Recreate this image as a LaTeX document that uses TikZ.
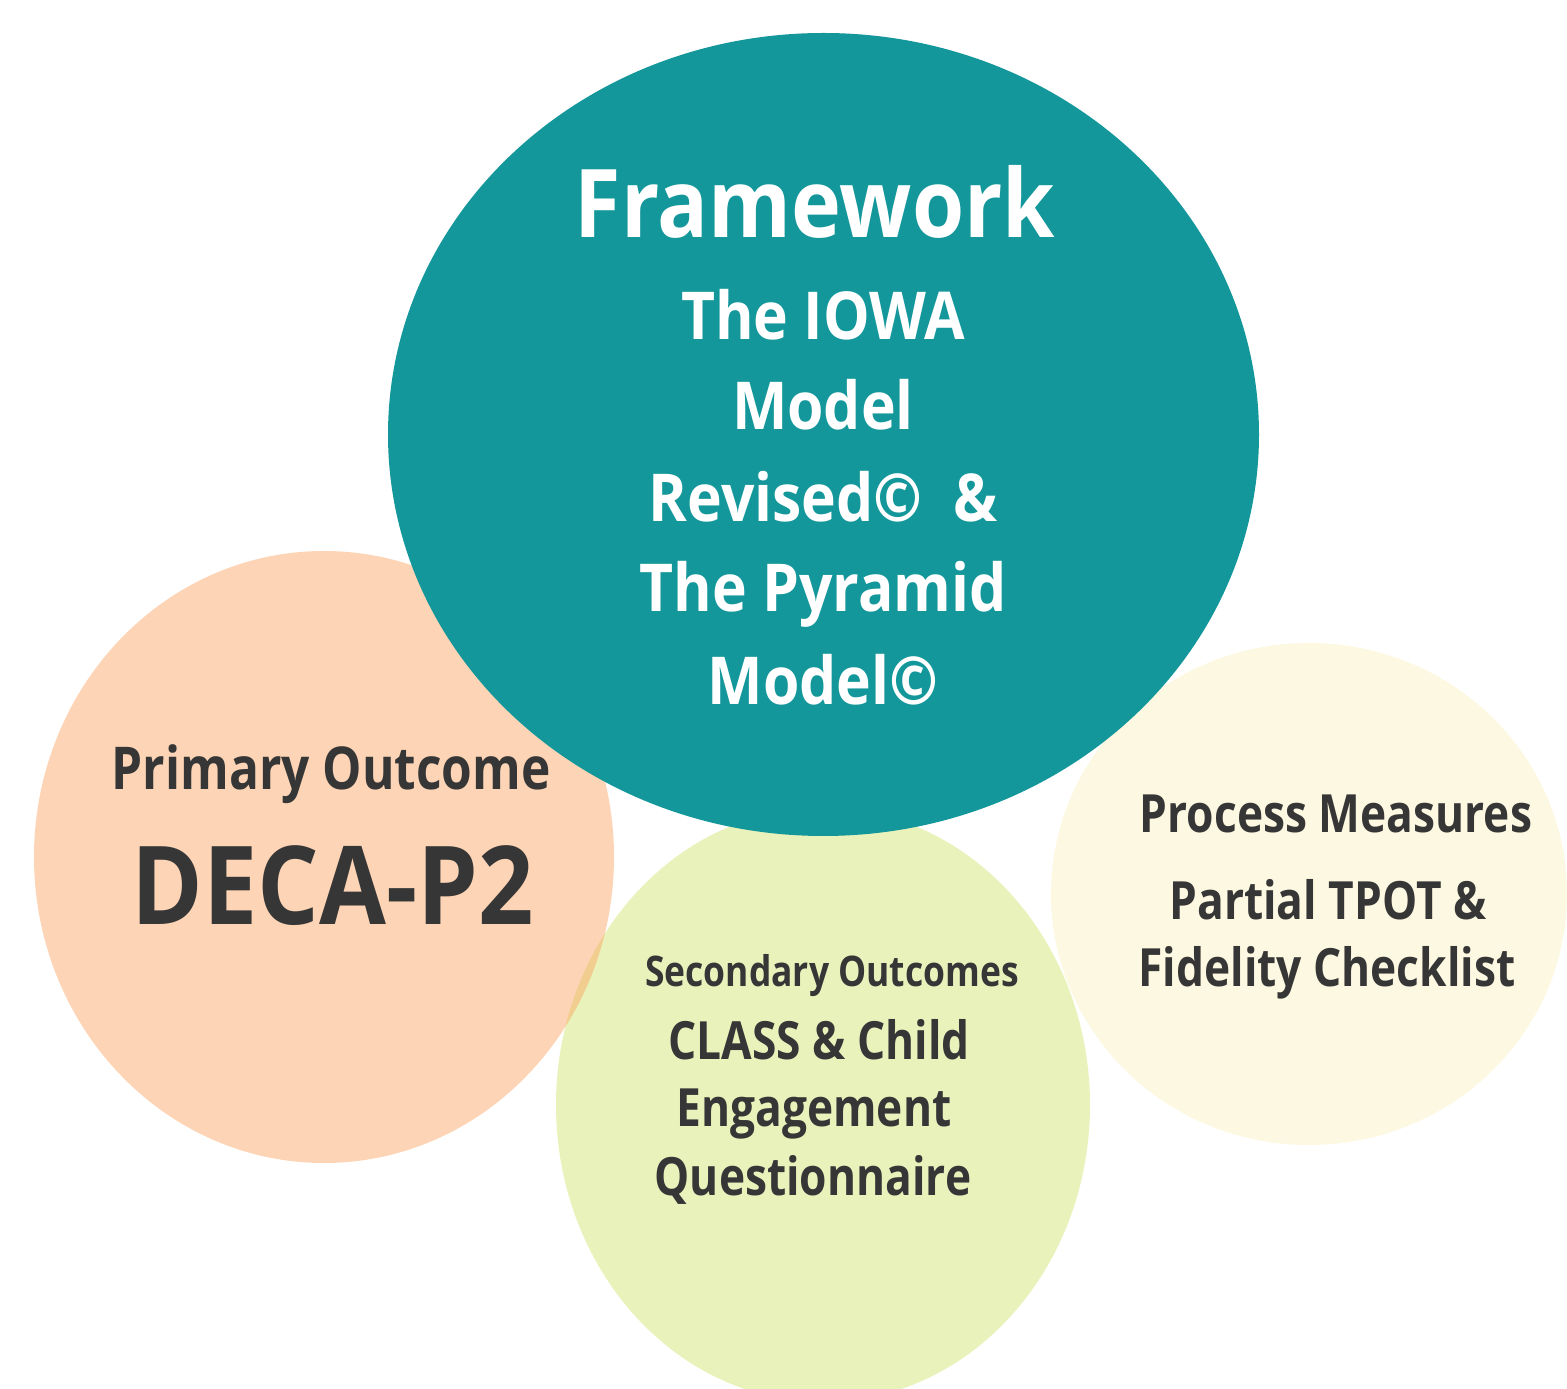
\documentclass[tikz,border=0pt]{standalone}
\usepackage{fontspec}
\setmainfont[FakeStretch=0.89]{Open Sans}
\newfontfamily\narrowsans[FakeStretch=0.84]{Open Sans}
\definecolor{teal}{RGB}{19,151,155}
\definecolor{peach}{RGB}{250,160,90}
\definecolor{lime}{RGB}{208,226,106}
\definecolor{cream}{RGB}{253,248,225}
\definecolor{ink}{RGB}{54,54,54}
\tikzset{
    white text/.style={text=white, font=\bfseries, anchor=base},
    dark text/.style={text=ink, font=\bfseries, anchor=base},
}
\begin{document}
\begin{tikzpicture}[x=1cm,y=1cm]
    \useasboundingbox (0, 0) rectangle (15.67, 13.88);

    \coordinate (C1) at (8.235, 9.535);
    \coordinate (C2) at (3.24, 5.31);
    \coordinate (C3) at (8.23, 2.83);
    \coordinate (C4) at (13.09, 4.94);

    \fill[cream] (C4) ellipse (2.58 and 2.51);
    \fill[lime, opacity=0.45] (C3) ellipse (2.67 and 2.97);
    \fill[peach, opacity=0.45] (C2) ellipse (2.90 and 3.06);
    \fill[teal] (C1) ellipse (4.355 and 4.015);

    \node[white text, font=\bfseries\fontsize{27}{27}\selectfont] (fw) at (8.15, 11.50) {Framework};
    \node[white text, font=\bfseries\fontsize{18.8}{18.8}\selectfont] (iowa1) at (8.23, 10.48) {The IOWA};
    \node[white text, font=\bfseries\fontsize{18.8}{18.8}\selectfont] (iowa2) at (8.23, 9.58) {Model};
    \node[white text, font=\bfseries\fontsize{18.8}{18.8}\selectfont] (iowa3) at (8.23, 8.66) {Revised\textcopyright\ \ \&};
    \node[white text, font=\bfseries\fontsize{18.8}{18.8}\selectfont] (pyr1) at (8.23, 7.76) {The Pyramid};
    \node[white text, font=\bfseries\fontsize{18.8}{18.8}\selectfont] (pyr2) at (8.23, 6.83) {Model\textcopyright};

    \node[dark text, font=\narrowsans\bfseries\fontsize{16.8}{16.8}\selectfont] (prim) at (3.31, 5.98) {Primary Outcome};
    \node[dark text, font=\bfseries\fontsize{31}{31}\selectfont] (deca) at (3.33, 4.63) {DECA-P2};

    \node[dark text, font=\narrowsans\bfseries\fontsize{12}{12}\selectfont] (sec) at (8.32, 4.01) {Secondary Outcomes};
    \node[dark text, font=\narrowsans\bfseries\fontsize{15}{15}\selectfont] (cls1) at (8.19, 3.28) {CLASS \& Child};
    \node[dark text, font=\narrowsans\bfseries\fontsize{15}{15}\selectfont] (cls2) at (8.14, 2.61) {Engagement};
    \node[dark text, font=\narrowsans\bfseries\fontsize{15}{15}\selectfont] (cls3) at (8.13, 1.93) {Questionnaire};

    \node[dark text, font=\narrowsans\bfseries\fontsize{15}{15}\selectfont] (proc) at (13.36, 5.55) {Process Measures};
    \node[dark text, font=\narrowsans\bfseries\fontsize{15}{15}\selectfont] (tpot) at (13.28, 4.68) {Partial TPOT \&};
    \node[dark text, font=\narrowsans\bfseries\fontsize{15}{15}\selectfont] (fid) at (13.27, 4.01) {Fidelity Checklist};

\end{tikzpicture}
\end{document}
